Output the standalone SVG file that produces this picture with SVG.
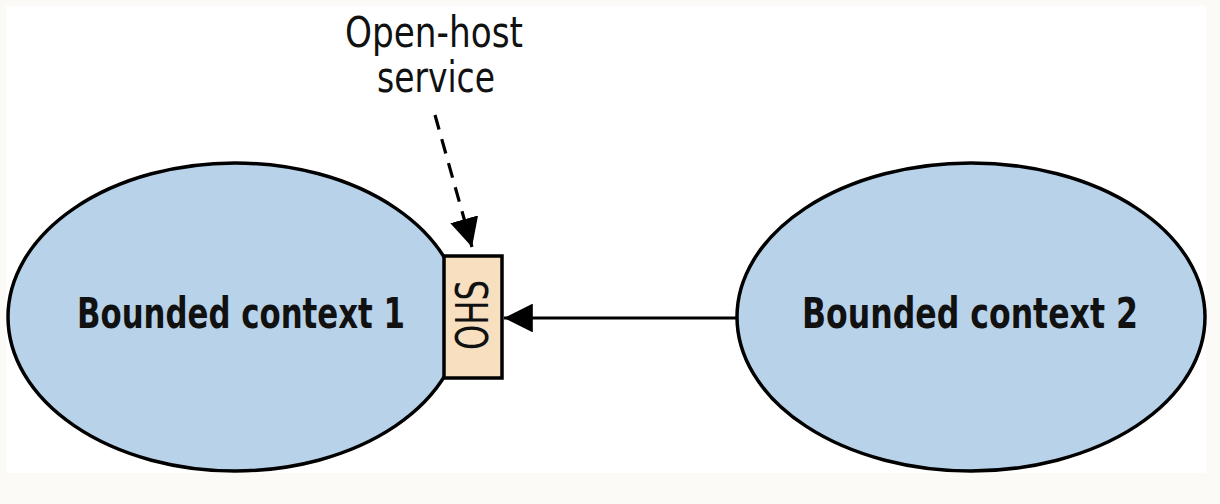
<svg xmlns="http://www.w3.org/2000/svg" width="1220" height="504" viewBox="0 0 1220 504">
<style>
.ctx{fill:#b8d3e9;stroke:#000;stroke-width:3.5}
.lbl{font-family:"DejaVu Sans Condensed","DejaVu Sans","Liberation Sans",sans-serif;font-stretch:condensed;fill:#111}
.bold{font-weight:bold;font-size:42px}
.note{font-size:42px}
.edge{stroke:#000;stroke-width:3.2;fill:none}
</style>
<defs>
<marker id="ah2" viewBox="0 0 10 10" refX="10" refY="5" markerWidth="9" markerHeight="9" orient="auto">
<path d="M0,0 L10,5 L0,10 z" fill="#000"/>
</marker>
</defs>
<rect x="0" y="0" width="1220" height="504" fill="#fbfaf6"/>
<rect x="6" y="6" width="1200" height="467" fill="#fff"/>
<g id="bc1">
<ellipse class="ctx" cx="235" cy="317" rx="227" ry="154"/>
<text class="lbl bold" x="77" y="328" textLength="328" lengthAdjust="spacingAndGlyphs">Bounded context 1</text>
</g>
<g id="bc2">
<ellipse class="ctx" cx="971" cy="317" rx="234" ry="154"/>
<text class="lbl bold" x="802" y="328" textLength="336" lengthAdjust="spacingAndGlyphs">Bounded context 2</text>
</g>
<g id="ohs">
<rect x="444" y="256" width="58" height="122" fill="#f7dfbf" stroke="#000" stroke-width="3.5"/>
<text class="lbl" font-size="44" transform="translate(488,350) rotate(-90)" textLength="70" lengthAdjust="spacingAndGlyphs">OHS</text>
</g>
<g id="note">
<text class="lbl note" x="345" y="47" textLength="178" lengthAdjust="spacingAndGlyphs">Open-host</text>
<text class="lbl note" x="377" y="92" textLength="118" lengthAdjust="spacingAndGlyphs">service</text>
</g>
<g id="connectors">
<path class="edge" d="M737,318 L504,318" marker-end="url(#ah2)"/>
<path class="edge" d="M435,115 L472,247" stroke-width="3.5" stroke-dasharray="15 10" marker-end="url(#ah2)"/>
</g>
</svg>
